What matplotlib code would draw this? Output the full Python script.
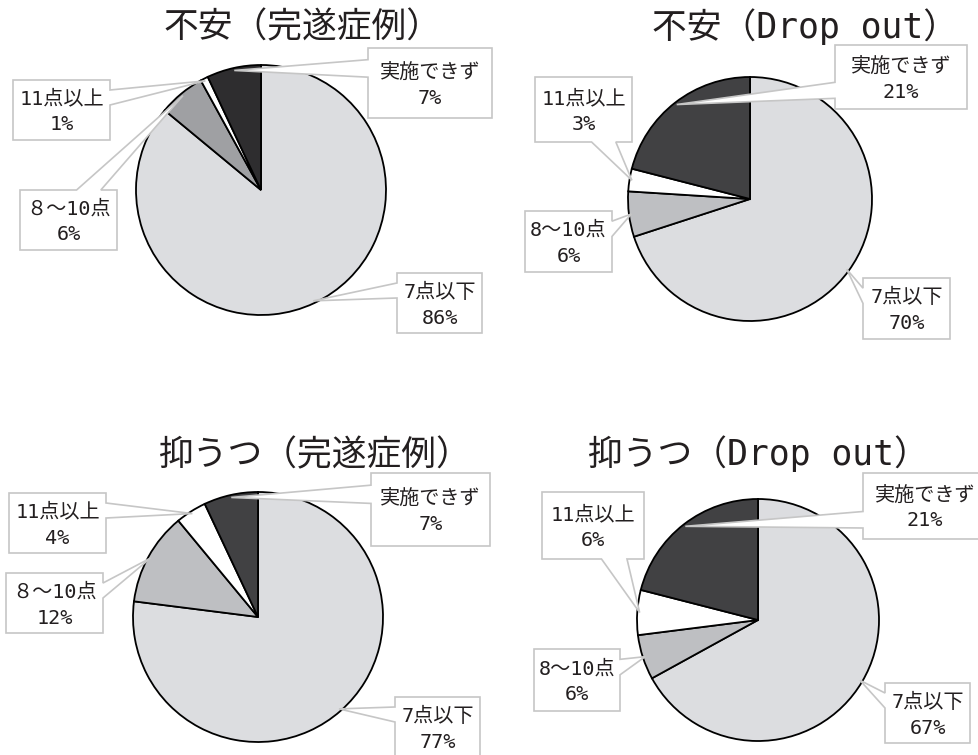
import matplotlib
matplotlib.use("Agg")
import matplotlib.pyplot as plt
import numpy as np
from matplotlib.patches import Polygon

# ---- data -------------------------------------------------------------
categories = ["7点以下", "8～10点", "11点以上", "実施できず"]
mid_label_completed = "８～10点"
anxiety_completed = [86, 6, 1, 7]
anxiety_dropout = [70, 6, 3, 21]
depression_completed = [77, 12, 4, 7]
depression_dropout = [67, 6, 6, 21]
titles = ["不安（完遂症例）", "不安（Drop out）", "抑うつ（完遂症例）", "抑うつ（Drop out）"]

# ---- layout (pixel coordinates, origin top-left) ----------------------
W, H = 979, 755
FAMILY = ["DejaVu Sans Mono", "Noto Sans CJK JP", "DejaVu Sans"]
TEXT_COLOR = "#231f20"
BOX_EDGE = "#c6c6c6"

colors_completed_anx = ["#dcdde0", "#9fa0a3", "#ffffff", "#2e2d2f"]
colors_default = ["#dcdde0", "#bebfc2", "#ffffff", "#414143"]

charts = [
    dict(values=anxiety_completed, title=titles[0], title_xy=(303, 27),
         center=(261, 190), radius=125, colors=colors_completed_anx,
         mid_label=mid_label_completed,
         boxes=[(397, 273, 482, 333), (20, 190, 117, 250),
                (13, 80, 110, 140), (368, 48, 492, 118)]),
    dict(values=anxiety_dropout, title=titles[1], title_xy=(805, 27),
         center=(750, 199), radius=122, colors=colors_default,
         mid_label=categories[1],
         boxes=[(863, 278, 950, 339), (525, 211, 612, 272),
                (535, 77, 632, 142), (835, 45, 967, 109)]),
    dict(values=depression_completed, title=titles[2], title_xy=(314, 455),
         center=(258, 617), radius=125, colors=colors_default,
         mid_label=mid_label_completed,
         boxes=[(395, 697, 480, 757), (6, 573, 103, 633),
                (9, 493, 106, 553), (371, 473, 490, 546)]),
    dict(values=depression_dropout, title=titles[3], title_xy=(758, 454),
         center=(758, 620), radius=121, colors=colors_default,
         mid_label=categories[1],
         boxes=[(885, 683, 970, 743), (534, 649, 620, 711),
                (542, 492, 644, 559), (863, 473, 987, 539)]),
]


def Y(y):
    return H - y


def callout_polygon(box, tip):
    """Rectangle with a wedge pointer (like a rectangular speech callout)."""
    l, t, r, b = box
    w, h = r - l, b - t
    cx, cy = (l + r) / 2, (t + b) / 2
    dx, dy = tip[0] - cx, tip[1] - cy
    vertical = abs(dy) - abs(dx * h / w) > 0
    x1 = l + w * (7 if dx > 0 else 2) / 12
    x2 = l + w * (10 if dx > 0 else 5) / 12
    y1 = t + h * (7 if dy > 0 else 2) / 12
    y2 = t + h * (10 if dy > 0 else 5) / 12
    pts = [(l, t)]
    if vertical and dy < 0:
        pts += [(x1, t), tip, (x2, t)]
    pts.append((r, t))
    if not vertical and dx > 0:
        pts += [(r, y1), tip, (r, y2)]
    pts.append((r, b))
    if vertical and dy > 0:
        pts += [(x2, b), tip, (x1, b)]
    pts.append((l, b))
    if not vertical and dx < 0:
        pts += [(l, y2), tip, (l, y1)]
    return [(x, Y(y)) for x, y in pts]


fig = plt.figure(figsize=(W / 100, H / 100), dpi=100)
ax = fig.add_axes([0, 0, 1, 1])

for ch in charts:
    vals = ch["values"]
    cx, cy = ch["center"]
    r = ch["radius"]
    ax.pie(vals, colors=ch["colors"], startangle=90, counterclock=False,
           center=(cx, Y(cy)), radius=r, frame=False,
           wedgeprops=dict(edgecolor="black", linewidth=1.3))

    labels = [categories[0], ch["mid_label"], categories[2], categories[3]]
    total = float(sum(vals))
    cum = np.concatenate([[0], np.cumsum(vals)])
    for i, v in enumerate(vals):
        theta = 2 * np.pi * (cum[i] + v / 2) / total
        tip = (cx + 0.98 * r * np.sin(theta), cy - 0.98 * r * np.cos(theta))
        box = ch["boxes"][i]
        poly = Polygon(callout_polygon(box, tip), closed=True,
                       facecolor="white", edgecolor=BOX_EDGE,
                       linewidth=1.2, zorder=5)
        ax.add_patch(poly)
        bx = (box[0] + box[2]) / 2
        by = (box[1] + box[3]) / 2 + 2
        ax.text(bx, Y(by - 13), labels[i], ha="center", va="center",
                fontsize=14.5, family=FAMILY, color=TEXT_COLOR, zorder=6)
        ax.text(bx, Y(by + 13), f"{v}%", ha="center", va="center",
                fontsize=14.5, family=FAMILY, color=TEXT_COLOR, zorder=6)

    tx, ty = ch["title_xy"]
    ax.text(tx, Y(ty), ch["title"], ha="center", va="center",
            fontsize=25, family=FAMILY, color=TEXT_COLOR, zorder=6)

ax.set_xlim(0, W)
ax.set_ylim(0, H)
ax.set_aspect("auto")
ax.axis("off")

fig.savefig("out.png", dpi=100, facecolor="white")
